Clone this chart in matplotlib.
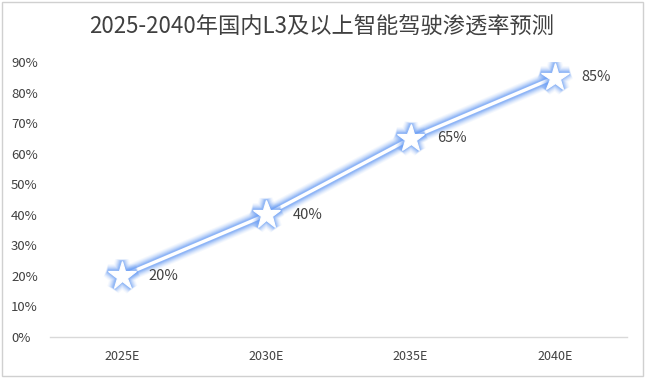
import matplotlib
matplotlib.use("Agg")
import matplotlib.pyplot as plt
import matplotlib.patheffects as pe
from matplotlib.patches import Rectangle

plt.rcParams['font.family'] = ['Noto Sans CJK SC', 'DejaVu Sans']

categories = ['2025E', '2030E', '2035E', '2040E']
values = [20, 40, 65, 85]
yticks = [0, 10, 20, 30, 40, 50, 60, 70, 80, 90]
title = '2025-2040年国内L3及以上智能驾驶渗透率预测'

fig = plt.figure(figsize=(6.45, 3.9), dpi=100)
fig.patches.append(Rectangle((2/645, 1 - 376/390), 641/645, 374/390, transform=fig.transFigure,
                             fill=False, edgecolor='#d0d0d0', linewidth=1))
ax = fig.add_axes([50/645, 1 - 337/390, 577/645, (337 - 62)/390])

x = list(range(len(categories)))
glow_color = '#6a9ef5'
line_glow = [pe.Stroke(linewidth=w, foreground=glow_color, alpha=a)
             for w, a in [(12, 0.07), (10.5, 0.1), (9, 0.14), (7.5, 0.2), (6, 0.28), (4.6, 0.38)]] + [pe.Normal()]
ax.plot(x, values, color='white', linewidth=2.4, path_effects=line_glow, zorder=3,
        solid_capstyle='round')
marker_glow = [pe.Stroke(linewidth=w, foreground=glow_color, alpha=a)
               for w, a in [(10, 0.06), (8.5, 0.09), (7, 0.13), (5.5, 0.18), (4, 0.25), (2.6, 0.35)]] + [pe.Normal()]
ax.plot(x, values, linestyle='none', marker='*', markersize=21, markerfacecolor='white',
        markeredgecolor='white', markeredgewidth=0.8, path_effects=marker_glow, zorder=4)

for xi, v in zip(x, values):
    ax.annotate(f'{v}%', (xi, v), xytext=(19, 0), textcoords='offset points',
                ha='left', va='center', fontsize=10.5, color='#404040', zorder=5)

ax.set_xlim(-0.5, len(categories) - 0.5)
ax.set_ylim(0, 90)
ax.set_yticks(yticks)
ax.set_yticklabels([f'{t}%' for t in yticks], fontsize=9.5, color='#404040')
ax.set_xticks(x)
ax.set_xticklabels(categories, fontsize=9, color='#404040')
ax.tick_params(axis='both', length=0)
ax.tick_params(axis='x', pad=9)
for s in ['top', 'right', 'left']:
    ax.spines[s].set_visible(False)
ax.spines['bottom'].set_color('#d9d9d9')
ax.spines['bottom'].set_linewidth(1)
for lbl in ax.get_yticklabels():
    lbl.set_horizontalalignment('left')
ax.yaxis.set_tick_params(pad=28)

fig.text(322/645, 1 - 27/390, title, ha='center', va='center', fontsize=16, color='#404040')

fig.savefig('out.png', dpi=100)
